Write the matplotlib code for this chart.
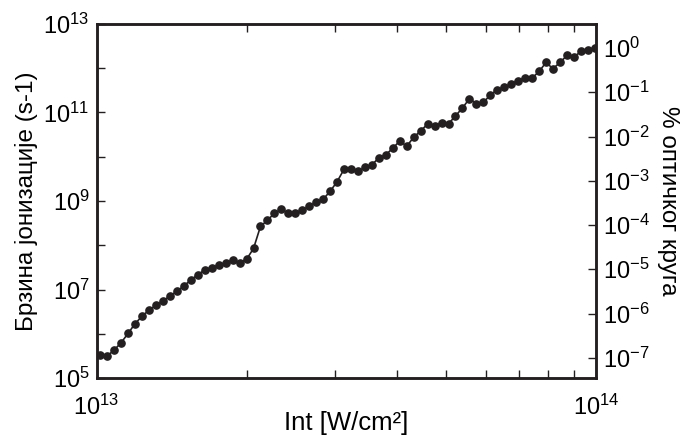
import numpy as np
import matplotlib
matplotlib.use("Agg")
import matplotlib.pyplot as plt
from matplotlib.ticker import LogLocator, FixedLocator, LogFormatterSciNotation, NullFormatter

plt.rcParams['font.family'] = ['Liberation Sans', 'DejaVu Sans']
plt.rcParams['mathtext.fontset'] = 'custom'
plt.rcParams['mathtext.rm'] = 'Liberation Sans'
plt.rcParams['mathtext.it'] = 'Liberation Sans'

# intensity, in units of 1e13 W/cm^2
intensity = [1.017, 1.050, 1.085, 1.120, 1.157, 1.194, 1.233, 1.274, 1.315, 1.358,
             1.402, 1.448, 1.495, 1.544, 1.594, 1.646, 1.700, 1.755, 1.812, 1.872,
             1.933, 1.996, 2.061, 2.128, 2.198, 2.269, 2.343, 2.419, 2.498, 2.580,
             2.664, 2.750, 2.840, 2.933, 3.028, 3.127, 3.229, 3.334, 3.443, 3.555,
             3.671, 3.791, 3.914, 4.042, 4.174, 4.310, 4.450, 4.595, 4.745, 4.900,
             5.060, 5.224, 5.395, 5.571, 5.752, 5.940, 6.134, 6.334, 6.540, 6.754,
             6.974, 7.201, 7.436, 7.679, 7.929, 8.188, 8.455, 8.731, 9.016, 9.311,
             9.614, 9.927]

# log10 of ionization rate (s^-1)
log_rate = [5.527, 5.497, 5.633, 5.798, 6.010, 6.227, 6.394, 6.537, 6.643, 6.740,
            6.853, 6.959, 7.079, 7.215, 7.334, 7.441, 7.493, 7.547, 7.592, 7.667,
            7.606, 7.682, 7.927, 8.424, 8.566, 8.722, 8.812, 8.724, 8.724, 8.797,
            8.880, 8.977, 9.038, 9.219, 9.434, 9.716, 9.716, 9.671, 9.757, 9.820,
            9.972, 10.046, 10.191, 10.356, 10.238, 10.440, 10.582, 10.740, 10.702, 10.756,
            10.745, 10.921, 11.102, 11.310, 11.203, 11.226, 11.395, 11.515, 11.565, 11.644,
            11.721, 11.780, 11.777, 11.927, 12.130, 11.990, 12.130, 12.288, 12.247, 12.383,
            12.408, 12.453]

# rate that corresponds to 100 % of the optical cycle on the right axis
rate_scale = 10 ** 12.457

x = np.array(intensity) * 1e13
y = 10.0 ** np.array(log_rate)

fig = plt.figure(figsize=(6.82, 4.36), dpi=100)
ax = fig.add_axes([0.1415, 0.133, 0.733, 0.812])

ax.plot(x, y, '-', color='#231f20', lw=1.2, marker='o', ms=5.2, mfc='#231f20', mec='#231f20')
ax.set_xscale('log')
ax.set_yscale('log')
ax.set_xlim(1e13, 1e14)
ax.set_ylim(1e5, 1e13)

for s in ax.spines.values():
    s.set_linewidth(1.8)
    s.set_color('#231f20')

fmt = LogFormatterSciNotation()
ax.xaxis.set_major_locator(FixedLocator([1e13, 1e14]))
ax.xaxis.set_major_formatter(fmt)
ax.xaxis.set_minor_locator(LogLocator(base=10, subs=np.arange(2, 10), numticks=20))
ax.xaxis.set_minor_formatter(NullFormatter())

ax.yaxis.set_major_locator(FixedLocator([1e5, 1e7, 1e9, 1e11, 1e13]))
ax.yaxis.set_major_formatter(fmt)
ax.yaxis.set_minor_locator(FixedLocator([1e6, 1e8, 1e10, 1e12]))
ax.yaxis.set_minor_formatter(NullFormatter())

ax.tick_params(axis='x', which='both', direction='in', top=True, bottom=True,
               length=6, width=1.0, labelsize=17, pad=12, color='#231f20')
ax.tick_params(axis='y', which='both', direction='in', left=True, right=False,
               length=6, width=1.0, labelsize=17, pad=5, color='#231f20')
ax.tick_params(axis='x', which='major', length=0)

ax2 = ax.twinx()
ax2.set_yscale('log')
ax2.set_ylim(1e5 / rate_scale, 1e13 / rate_scale)
ax2.yaxis.set_major_locator(FixedLocator([10.0 ** k for k in range(-7, 1)]))
ax2.yaxis.set_major_formatter(fmt)
ax2.yaxis.set_minor_locator(FixedLocator([]))
ax2.tick_params(axis='y', which='major', direction='in', length=6, width=1.0,
                labelsize=17, pad=5, color='#231f20')
for s in ax2.spines.values():
    s.set_linewidth(1.8)
    s.set_color('#231f20')

ax.set_xlabel('Int [W/cm²]', fontsize=18.5)
ax.xaxis.set_label_coords(0.5, -0.093)
ax.set_ylabel('Брзина јонизације (s-1)', fontsize=17.5)
ax.yaxis.set_label_coords(-0.117, 0.5)
ax2.set_ylabel('% оптичког круга', fontsize=17.5, rotation=-90, va='bottom')
ax2.yaxis.set_label_coords(1.122, 0.5)

fig.savefig('out.png', dpi=100)
